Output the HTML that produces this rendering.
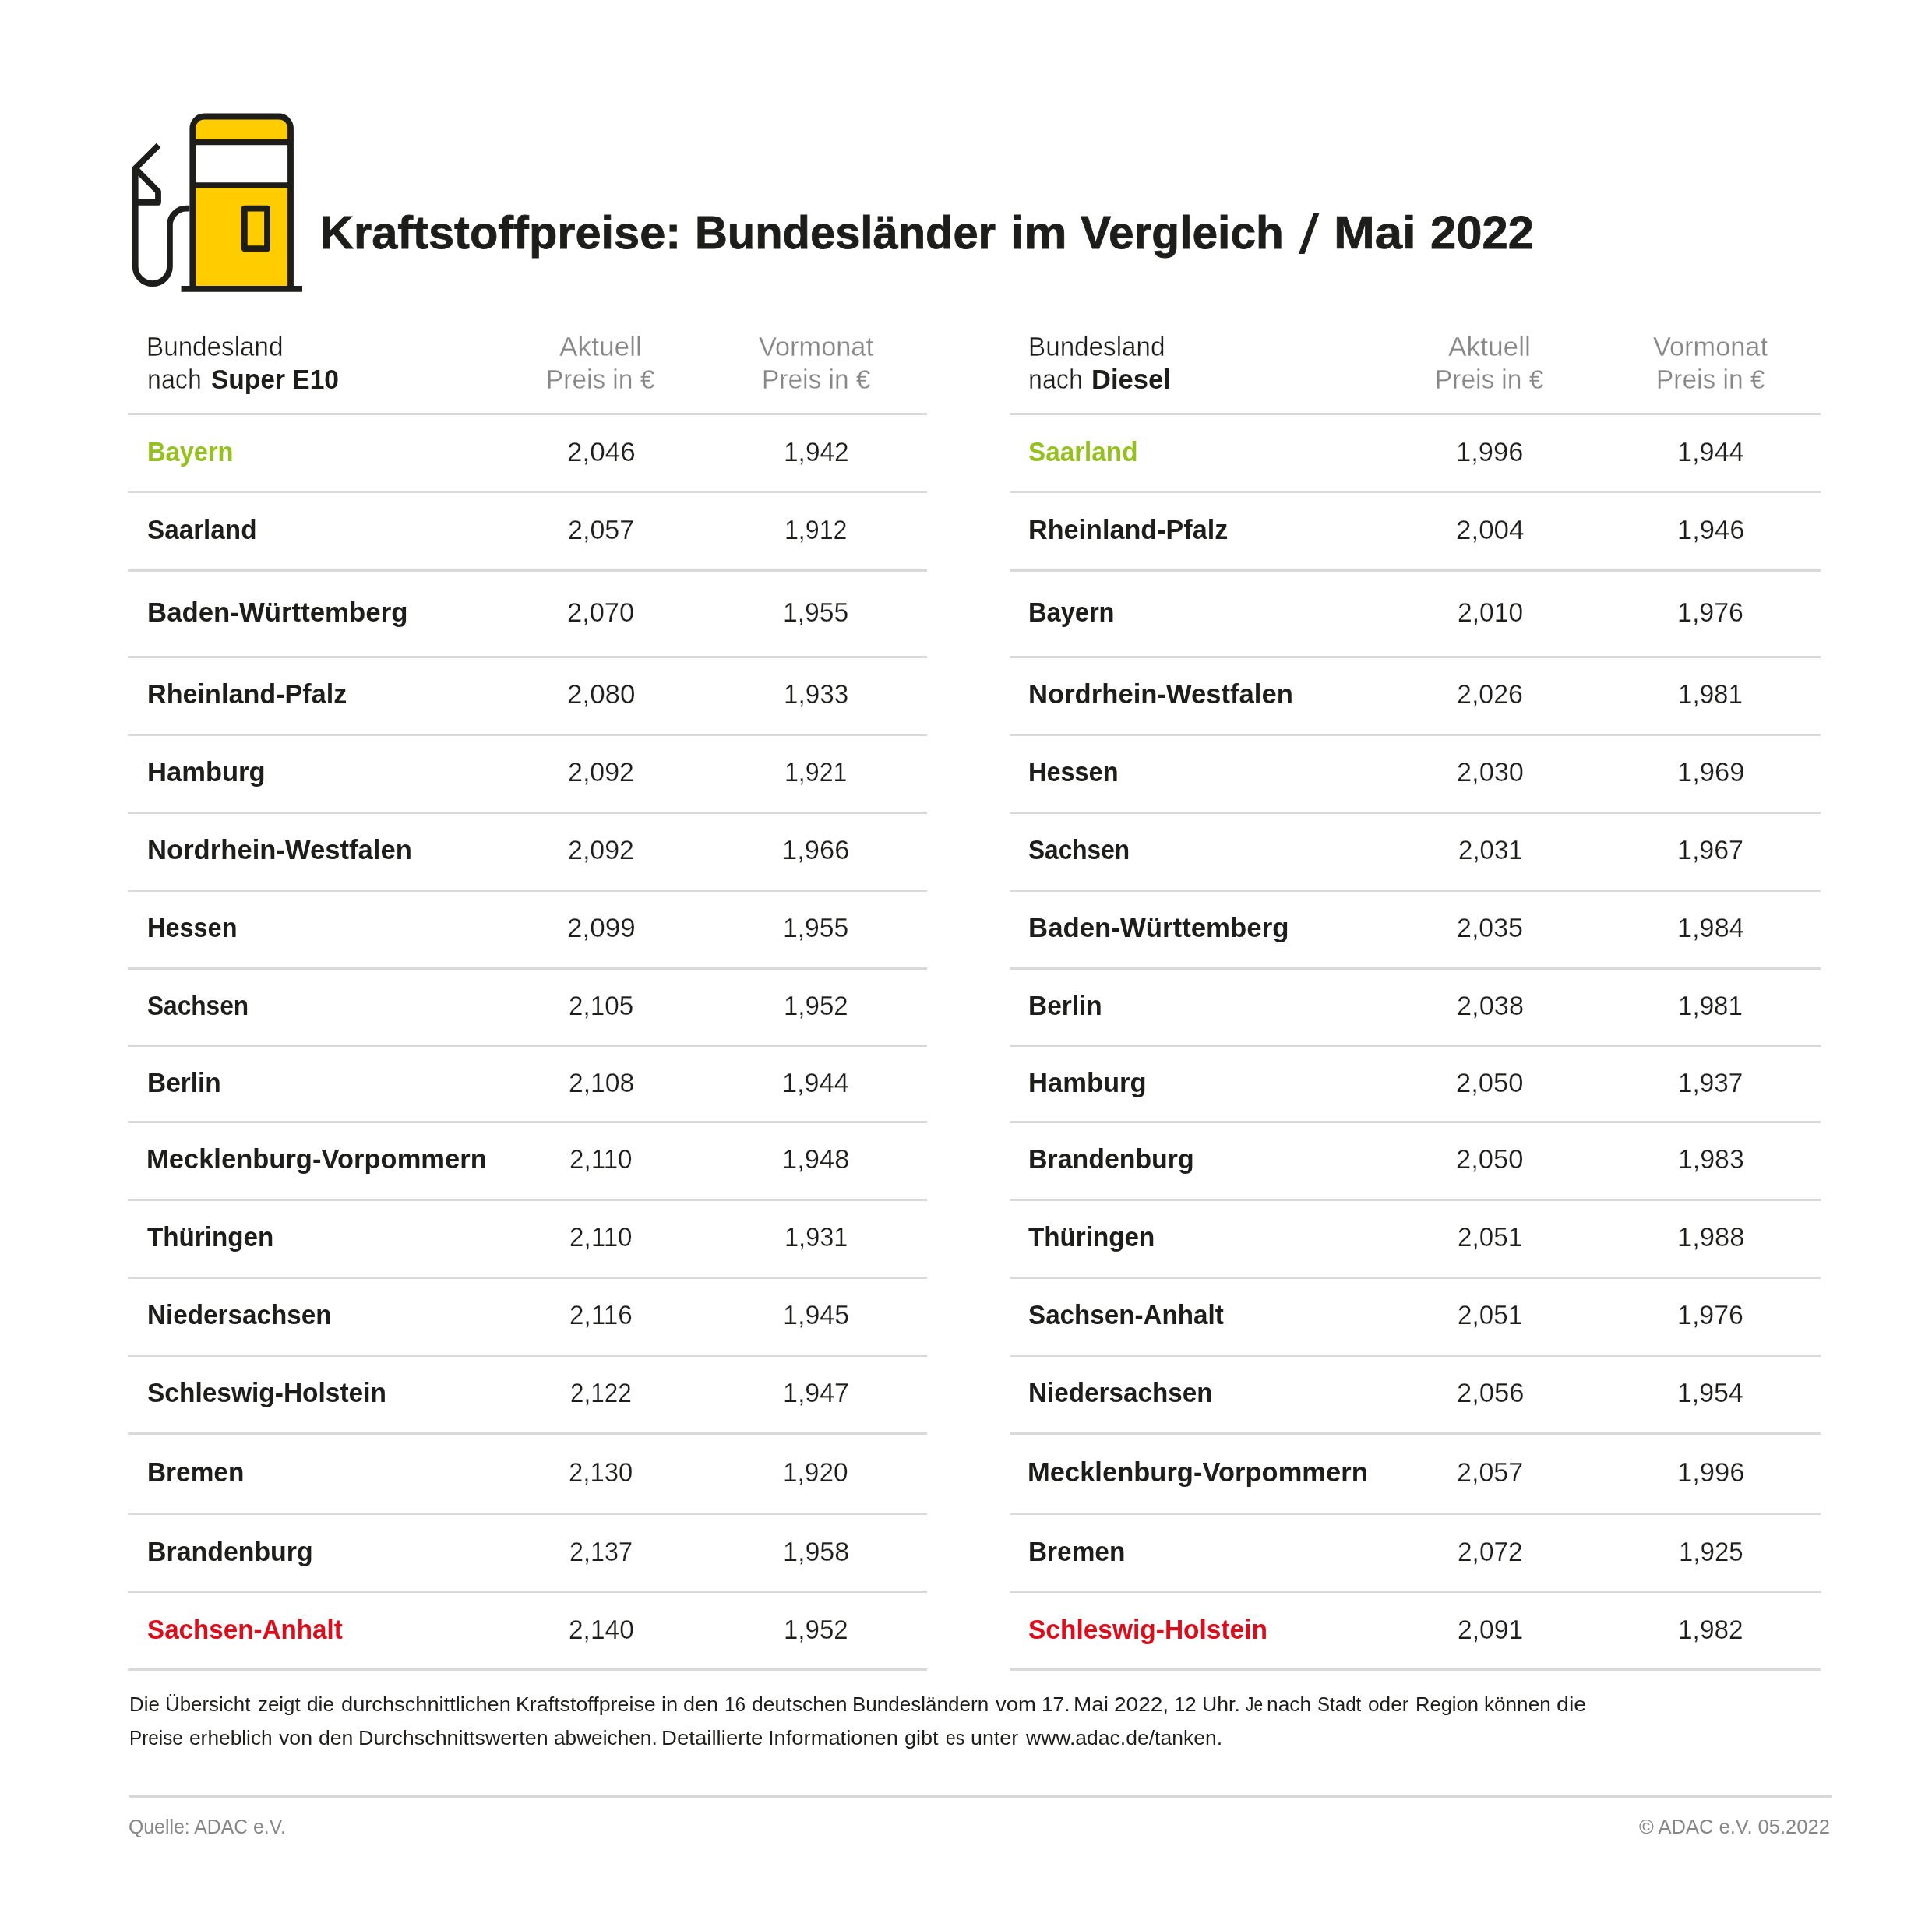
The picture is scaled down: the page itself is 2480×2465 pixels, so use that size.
<!DOCTYPE html>
<html lang="de">
<head>
<meta charset="utf-8">
<title>Kraftstoffpreise: Bundesländer im Vergleich / Mai 2022</title>
<style>
html,body{margin:0;padding:0;background:#fff;}
body{width:2480px;height:2465px;position:relative;overflow:hidden;font-family:"Liberation Sans", sans-serif;}
.t{position:absolute;white-space:nowrap;transform-origin:0 0;margin:0;padding:0;}
.ln{position:absolute;height:3px;background:#d9d9d9;}
.b{font-weight:700;}
svg{position:absolute;overflow:visible;}
</style>
</head>
<body>
<div class="ln" style="left:164.3px;top:530px;width:1025.3px"></div>
<div class="ln" style="left:1296.1px;top:530px;width:1041.3px"></div>
<div class="ln" style="left:164.3px;top:630px;width:1025.3px"></div>
<div class="ln" style="left:1296.1px;top:630px;width:1041.3px"></div>
<div class="ln" style="left:164.3px;top:731px;width:1025.3px"></div>
<div class="ln" style="left:1296.1px;top:731px;width:1041.3px"></div>
<div class="ln" style="left:164.3px;top:842px;width:1025.3px"></div>
<div class="ln" style="left:1296.1px;top:842px;width:1041.3px"></div>
<div class="ln" style="left:164.3px;top:942px;width:1025.3px"></div>
<div class="ln" style="left:1296.1px;top:942px;width:1041.3px"></div>
<div class="ln" style="left:164.3px;top:1042px;width:1025.3px"></div>
<div class="ln" style="left:1296.1px;top:1042px;width:1041.3px"></div>
<div class="ln" style="left:164.3px;top:1142px;width:1025.3px"></div>
<div class="ln" style="left:1296.1px;top:1142px;width:1041.3px"></div>
<div class="ln" style="left:164.3px;top:1242px;width:1025.3px"></div>
<div class="ln" style="left:1296.1px;top:1242px;width:1041.3px"></div>
<div class="ln" style="left:164.3px;top:1341px;width:1025.3px"></div>
<div class="ln" style="left:1296.1px;top:1341px;width:1041.3px"></div>
<div class="ln" style="left:164.3px;top:1439px;width:1025.3px"></div>
<div class="ln" style="left:1296.1px;top:1439px;width:1041.3px"></div>
<div class="ln" style="left:164.3px;top:1539px;width:1025.3px"></div>
<div class="ln" style="left:1296.1px;top:1539px;width:1041.3px"></div>
<div class="ln" style="left:164.3px;top:1639px;width:1025.3px"></div>
<div class="ln" style="left:1296.1px;top:1639px;width:1041.3px"></div>
<div class="ln" style="left:164.3px;top:1739px;width:1025.3px"></div>
<div class="ln" style="left:1296.1px;top:1739px;width:1041.3px"></div>
<div class="ln" style="left:164.3px;top:1839px;width:1025.3px"></div>
<div class="ln" style="left:1296.1px;top:1839px;width:1041.3px"></div>
<div class="ln" style="left:164.3px;top:1942px;width:1025.3px"></div>
<div class="ln" style="left:1296.1px;top:1942px;width:1041.3px"></div>
<div class="ln" style="left:164.3px;top:2042px;width:1025.3px"></div>
<div class="ln" style="left:1296.1px;top:2042px;width:1041.3px"></div>
<div class="ln" style="left:164.3px;top:2142px;width:1025.3px"></div>
<div class="ln" style="left:1296.1px;top:2142px;width:1041.3px"></div>
<div class="ln" style="left:165px;top:2304px;width:2185.5px;height:4px;background:#d8d8d8"></div>
<svg width="2480" height="2465" viewBox="0 0 2480 2465" style="left:0;top:0">
<path d="M247.3 368 V164.5 a15 15 0 0 1 15 -15 h95.7 a15 15 0 0 1 15 15 V368 Z" fill="#ffcc00"/>
<rect x="247.3" y="182.6" width="125.7" height="55.3" fill="#ffffff"/>
<g fill="none" stroke="#1d1d1b" stroke-width="7.8">
<path d="M247.3 368 V164.5 a15 15 0 0 1 15 -15 h95.7 a15 15 0 0 1 15 15 V368"/>
<path d="M247.3 182.6 H373 M247.3 237.9 H373" stroke-width="7.3"/>
<path d="M232.6 370.95 H388"/>
<rect x="313.8" y="267.6" width="29.2" height="51.5" stroke-linejoin="round"/>
<path d="M203.5 186.5 L173.7 216.2 V342 a22.1 22.1 0 0 0 44.2 0 V289.2 a21.5 21.5 0 0 1 21.5 -21.5 h4"/>
<path d="M173.7 216.2 L203 246 V259.8 H173.7" stroke-linejoin="round"/>
</g>
</svg>
<div id="txt" style="position:absolute;left:0;top:0;width:2480px;height:2465px;will-change:transform">
<div class="t b" style="left:411.48px;top:269.50px;font-size:59px;line-height:59px;color:#1d1d1b;transform:scaleX(1.0092);-webkit-text-stroke:0.79px #1d1d1b;">Kraftstoffpreise:</div>
<div class="t b" style="left:891.98px;top:269.50px;font-size:59px;line-height:59px;color:#1d1d1b;transform:scaleX(0.9815);-webkit-text-stroke:0.82px #1d1d1b;">Bundesländer</div>
<div class="t b" style="left:1296.61px;top:269.50px;font-size:59px;line-height:59px;color:#1d1d1b;transform:scaleX(1.0542);-webkit-text-stroke:0.76px #1d1d1b;">im</div>
<div class="t b" style="left:1386.90px;top:269.50px;font-size:59px;line-height:59px;color:#1d1d1b;transform:scaleX(0.9942);-webkit-text-stroke:0.80px #1d1d1b;">Vergleich</div>
<div class="t" style="left:1666.50px;top:265.66px;font-size:70px;line-height:70px;color:#1d1d1b;transform:scaleX(1.3562);">/</div>
<div class="t b" style="left:1711.84px;top:269.50px;font-size:59px;line-height:59px;color:#1d1d1b;transform:scaleX(1.0748);-webkit-text-stroke:0.74px #1d1d1b;">Mai</div>
<div class="t b" style="left:1836.23px;top:269.50px;font-size:59px;line-height:59px;color:#1d1d1b;transform:scaleX(1.0130);-webkit-text-stroke:0.79px #1d1d1b;">2022</div>
<div class="t b" style="left:189.16px;top:562.00px;font-size:35px;line-height:35px;color:#95c11f;transform:scaleX(0.9312);">Bayern</div>
<div class="t" style="left:727.88px;top:562.00px;font-size:35px;line-height:35px;color:#1d1d1b;transform:scaleX(1.0003);-webkit-text-stroke:0.25px #fff;">2,046</div>
<div class="t" style="left:1005.58px;top:562.00px;font-size:35px;line-height:35px;color:#1d1d1b;transform:scaleX(0.9556);-webkit-text-stroke:0.25px #fff;">1,942</div>
<div class="t b" style="left:188.63px;top:662.00px;font-size:35px;line-height:35px;color:#1d1d1b;transform:scaleX(0.9503);">Saarland</div>
<div class="t" style="left:729.08px;top:662.00px;font-size:35px;line-height:35px;color:#1d1d1b;transform:scaleX(0.9731);-webkit-text-stroke:0.25px #fff;">2,057</div>
<div class="t" style="left:1007.27px;top:662.00px;font-size:35px;line-height:35px;color:#1d1d1b;transform:scaleX(0.9175);-webkit-text-stroke:0.25px #fff;">1,912</div>
<div class="t b" style="left:189.03px;top:768.00px;font-size:35px;line-height:35px;color:#1d1d1b;transform:scaleX(0.9942);">Baden-Württemberg</div>
<div class="t" style="left:728.36px;top:768.00px;font-size:35px;line-height:35px;color:#1d1d1b;transform:scaleX(0.9833);-webkit-text-stroke:0.25px #fff;">2,070</div>
<div class="t" style="left:1005.32px;top:768.00px;font-size:35px;line-height:35px;color:#1d1d1b;transform:scaleX(0.9615);-webkit-text-stroke:0.25px #fff;">1,955</div>
<div class="t b" style="left:189.06px;top:873.00px;font-size:35px;line-height:35px;color:#1d1d1b;transform:scaleX(0.9763);">Rheinland-Pfalz</div>
<div class="t" style="left:727.69px;top:873.00px;font-size:35px;line-height:35px;color:#1d1d1b;transform:scaleX(0.9986);-webkit-text-stroke:0.25px #fff;">2,080</div>
<div class="t" style="left:1005.85px;top:873.00px;font-size:35px;line-height:35px;color:#1d1d1b;transform:scaleX(0.9496);-webkit-text-stroke:0.25px #fff;">1,933</div>
<div class="t b" style="left:189.04px;top:973.00px;font-size:35px;line-height:35px;color:#1d1d1b;transform:scaleX(0.9873);">Hamburg</div>
<div class="t" style="left:729.18px;top:973.00px;font-size:35px;line-height:35px;color:#1d1d1b;transform:scaleX(0.9707);-webkit-text-stroke:0.25px #fff;">2,092</div>
<div class="t" style="left:1007.27px;top:973.00px;font-size:35px;line-height:35px;color:#1d1d1b;transform:scaleX(0.9175);-webkit-text-stroke:0.25px #fff;">1,921</div>
<div class="t b" style="left:189.04px;top:1073.00px;font-size:35px;line-height:35px;color:#1d1d1b;transform:scaleX(0.9892);">Nordrhein-Westfalen</div>
<div class="t" style="left:729.18px;top:1073.00px;font-size:35px;line-height:35px;color:#1d1d1b;transform:scaleX(0.9707);-webkit-text-stroke:0.25px #fff;">2,092</div>
<div class="t" style="left:1004.27px;top:1073.00px;font-size:35px;line-height:35px;color:#1d1d1b;transform:scaleX(0.9854);-webkit-text-stroke:0.25px #fff;">1,966</div>
<div class="t b" style="left:189.17px;top:1173.00px;font-size:35px;line-height:35px;color:#1d1d1b;transform:scaleX(0.9276);">Hessen</div>
<div class="t" style="left:727.88px;top:1173.00px;font-size:35px;line-height:35px;color:#1d1d1b;transform:scaleX(1.0003);-webkit-text-stroke:0.25px #fff;">2,099</div>
<div class="t" style="left:1005.32px;top:1173.00px;font-size:35px;line-height:35px;color:#1d1d1b;transform:scaleX(0.9615);-webkit-text-stroke:0.25px #fff;">1,955</div>
<div class="t b" style="left:188.66px;top:1273.00px;font-size:35px;line-height:35px;color:#1d1d1b;transform:scaleX(0.9039);">Sachsen</div>
<div class="t" style="left:730.07px;top:1273.00px;font-size:35px;line-height:35px;color:#1d1d1b;transform:scaleX(0.9506);-webkit-text-stroke:0.25px #fff;">2,105</div>
<div class="t" style="left:1006.11px;top:1273.00px;font-size:35px;line-height:35px;color:#1d1d1b;transform:scaleX(0.9437);-webkit-text-stroke:0.25px #fff;">1,952</div>
<div class="t b" style="left:189.11px;top:1372.00px;font-size:35px;line-height:35px;color:#1d1d1b;transform:scaleX(0.9553);">Berlin</div>
<div class="t" style="left:729.55px;top:1372.00px;font-size:35px;line-height:35px;color:#1d1d1b;transform:scaleX(0.9624);-webkit-text-stroke:0.25px #fff;">2,108</div>
<div class="t" style="left:1004.28px;top:1372.00px;font-size:35px;line-height:35px;color:#1d1d1b;transform:scaleX(0.9790);-webkit-text-stroke:0.25px #fff;">1,944</div>
<div class="t b" style="left:187.99px;top:1470.00px;font-size:35px;line-height:35px;color:#1d1d1b;transform:scaleX(0.9865);">Mecklenburg-Vorpommern</div>
<div class="t" style="left:731.17px;top:1470.00px;font-size:35px;line-height:35px;color:#1d1d1b;transform:scaleX(0.9476);-webkit-text-stroke:0.25px #fff;">2,110</div>
<div class="t" style="left:1004.27px;top:1470.00px;font-size:35px;line-height:35px;color:#1d1d1b;transform:scaleX(0.9854);-webkit-text-stroke:0.25px #fff;">1,948</div>
<div class="t b" style="left:189.15px;top:1570.00px;font-size:35px;line-height:35px;color:#1d1d1b;transform:scaleX(0.9490);">Thüringen</div>
<div class="t" style="left:731.17px;top:1570.00px;font-size:35px;line-height:35px;color:#1d1d1b;transform:scaleX(0.9476);-webkit-text-stroke:0.25px #fff;">2,110</div>
<div class="t" style="left:1006.74px;top:1570.00px;font-size:35px;line-height:35px;color:#1d1d1b;transform:scaleX(0.9294);-webkit-text-stroke:0.25px #fff;">1,931</div>
<div class="t b" style="left:189.12px;top:1670.00px;font-size:35px;line-height:35px;color:#1d1d1b;transform:scaleX(0.9497);">Niedersachsen</div>
<div class="t" style="left:731.37px;top:1670.00px;font-size:35px;line-height:35px;color:#1d1d1b;transform:scaleX(0.9490);-webkit-text-stroke:0.25px #fff;">2,116</div>
<div class="t" style="left:1004.80px;top:1670.00px;font-size:35px;line-height:35px;color:#1d1d1b;transform:scaleX(0.9735);-webkit-text-stroke:0.25px #fff;">1,945</div>
<div class="t b" style="left:188.63px;top:1770.00px;font-size:35px;line-height:35px;color:#1d1d1b;transform:scaleX(0.9567);">Schleswig-Holstein</div>
<div class="t" style="left:732.35px;top:1770.00px;font-size:35px;line-height:35px;color:#1d1d1b;transform:scaleX(0.8985);-webkit-text-stroke:0.25px #fff;">2,122</div>
<div class="t" style="left:1004.95px;top:1770.00px;font-size:35px;line-height:35px;color:#1d1d1b;transform:scaleX(0.9699);-webkit-text-stroke:0.25px #fff;">1,947</div>
<div class="t b" style="left:189.11px;top:1872.00px;font-size:35px;line-height:35px;color:#1d1d1b;transform:scaleX(0.9538);">Bremen</div>
<div class="t" style="left:730.34px;top:1872.00px;font-size:35px;line-height:35px;color:#1d1d1b;transform:scaleX(0.9386);-webkit-text-stroke:0.25px #fff;">2,130</div>
<div class="t" style="left:1005.39px;top:1872.00px;font-size:35px;line-height:35px;color:#1d1d1b;transform:scaleX(0.9541);-webkit-text-stroke:0.25px #fff;">1,920</div>
<div class="t b" style="left:189.08px;top:1974.00px;font-size:35px;line-height:35px;color:#1d1d1b;transform:scaleX(0.9680);">Brandenburg</div>
<div class="t" style="left:731.21px;top:1974.00px;font-size:35px;line-height:35px;color:#1d1d1b;transform:scaleX(0.9246);-webkit-text-stroke:0.25px #fff;">2,137</div>
<div class="t" style="left:1004.80px;top:1974.00px;font-size:35px;line-height:35px;color:#1d1d1b;transform:scaleX(0.9735);-webkit-text-stroke:0.25px #fff;">1,958</div>
<div class="t b" style="left:188.63px;top:2074.00px;font-size:35px;line-height:35px;color:#dc0c1a;transform:scaleX(0.9483);">Sachsen-Anhalt</div>
<div class="t" style="left:729.56px;top:2074.00px;font-size:35px;line-height:35px;color:#1d1d1b;transform:scaleX(0.9562);-webkit-text-stroke:0.25px #fff;">2,140</div>
<div class="t" style="left:1006.11px;top:2074.00px;font-size:35px;line-height:35px;color:#1d1d1b;transform:scaleX(0.9437);-webkit-text-stroke:0.25px #fff;">1,952</div>
<div class="t" style="left:188.30px;top:427.00px;font-size:35px;line-height:35px;color:#1d1d1b;transform:scaleX(0.9491);-webkit-text-stroke:0.40px #fff;">Bundesland</div>
<div class="t" style="left:188.88px;top:469.00px;font-size:35px;line-height:35px;color:#1d1d1b;transform:scaleX(0.9213);-webkit-text-stroke:0.40px #fff;">nach</div>
<div class="t" style="left:718.25px;top:427.00px;font-size:35px;line-height:35px;color:#878787;transform:scaleX(1.0083);-webkit-text-stroke:0.30px #fff;">Aktuell</div>
<div class="t" style="left:701.14px;top:469.00px;font-size:35px;line-height:35px;color:#878787;transform:scaleX(0.9542);-webkit-text-stroke:0.30px #fff;">Preis in €</div>
<div class="t" style="left:973.55px;top:427.00px;font-size:35px;line-height:35px;color:#878787;transform:scaleX(0.9811);-webkit-text-stroke:0.30px #fff;">Vormonat</div>
<div class="t" style="left:977.94px;top:469.00px;font-size:35px;line-height:35px;color:#878787;transform:scaleX(0.9556);-webkit-text-stroke:0.30px #fff;">Preis in €</div>
<div class="t b" style="left:1319.83px;top:562.00px;font-size:35px;line-height:35px;color:#95c11f;transform:scaleX(0.9503);">Saarland</div>
<div class="t" style="left:1869.47px;top:562.00px;font-size:35px;line-height:35px;color:#1d1d1b;transform:scaleX(0.9854);-webkit-text-stroke:0.25px #fff;">1,996</div>
<div class="t" style="left:2152.78px;top:562.00px;font-size:35px;line-height:35px;color:#1d1d1b;transform:scaleX(0.9790);-webkit-text-stroke:0.25px #fff;">1,944</div>
<div class="t b" style="left:1320.26px;top:662.00px;font-size:35px;line-height:35px;color:#1d1d1b;transform:scaleX(0.9763);">Rheinland-Pfalz</div>
<div class="t" style="left:1868.89px;top:662.00px;font-size:35px;line-height:35px;color:#1d1d1b;transform:scaleX(0.9986);-webkit-text-stroke:0.25px #fff;">2,004</div>
<div class="t" style="left:2152.77px;top:662.00px;font-size:35px;line-height:35px;color:#1d1d1b;transform:scaleX(0.9854);-webkit-text-stroke:0.25px #fff;">1,946</div>
<div class="t b" style="left:1320.36px;top:768.00px;font-size:35px;line-height:35px;color:#1d1d1b;transform:scaleX(0.9312);">Bayern</div>
<div class="t" style="left:1870.55px;top:768.00px;font-size:35px;line-height:35px;color:#1d1d1b;transform:scaleX(0.9609);-webkit-text-stroke:0.25px #fff;">2,010</div>
<div class="t" style="left:2153.45px;top:768.00px;font-size:35px;line-height:35px;color:#1d1d1b;transform:scaleX(0.9699);-webkit-text-stroke:0.25px #fff;">1,976</div>
<div class="t b" style="left:1320.24px;top:873.00px;font-size:35px;line-height:35px;color:#1d1d1b;transform:scaleX(0.9892);">Nordrhein-Westfalen</div>
<div class="t" style="left:1870.38px;top:873.00px;font-size:35px;line-height:35px;color:#1d1d1b;transform:scaleX(0.9707);-webkit-text-stroke:0.25px #fff;">2,026</div>
<div class="t" style="left:2154.45px;top:873.00px;font-size:35px;line-height:35px;color:#1d1d1b;transform:scaleX(0.9473);-webkit-text-stroke:0.25px #fff;">1,981</div>
<div class="t b" style="left:1320.37px;top:973.00px;font-size:35px;line-height:35px;color:#1d1d1b;transform:scaleX(0.9276);">Hessen</div>
<div class="t" style="left:1869.67px;top:973.00px;font-size:35px;line-height:35px;color:#1d1d1b;transform:scaleX(0.9809);-webkit-text-stroke:0.25px #fff;">2,030</div>
<div class="t" style="left:2152.77px;top:973.00px;font-size:35px;line-height:35px;color:#1d1d1b;transform:scaleX(0.9854);-webkit-text-stroke:0.25px #fff;">1,969</div>
<div class="t b" style="left:1319.86px;top:1073.00px;font-size:35px;line-height:35px;color:#1d1d1b;transform:scaleX(0.9039);">Sachsen</div>
<div class="t" style="left:1871.53px;top:1073.00px;font-size:35px;line-height:35px;color:#1d1d1b;transform:scaleX(0.9447);-webkit-text-stroke:0.25px #fff;">2,031</div>
<div class="t" style="left:2153.45px;top:1073.00px;font-size:35px;line-height:35px;color:#1d1d1b;transform:scaleX(0.9699);-webkit-text-stroke:0.25px #fff;">1,967</div>
<div class="t b" style="left:1320.23px;top:1173.00px;font-size:35px;line-height:35px;color:#1d1d1b;transform:scaleX(0.9942);">Baden-Württemberg</div>
<div class="t" style="left:1870.38px;top:1173.00px;font-size:35px;line-height:35px;color:#1d1d1b;transform:scaleX(0.9707);-webkit-text-stroke:0.25px #fff;">2,035</div>
<div class="t" style="left:2152.78px;top:1173.00px;font-size:35px;line-height:35px;color:#1d1d1b;transform:scaleX(0.9790);-webkit-text-stroke:0.25px #fff;">1,984</div>
<div class="t b" style="left:1320.31px;top:1273.00px;font-size:35px;line-height:35px;color:#1d1d1b;transform:scaleX(0.9553);">Berlin</div>
<div class="t" style="left:1869.86px;top:1273.00px;font-size:35px;line-height:35px;color:#1d1d1b;transform:scaleX(0.9825);-webkit-text-stroke:0.25px #fff;">2,038</div>
<div class="t" style="left:2154.45px;top:1273.00px;font-size:35px;line-height:35px;color:#1d1d1b;transform:scaleX(0.9473);-webkit-text-stroke:0.25px #fff;">1,981</div>
<div class="t b" style="left:1320.24px;top:1372.00px;font-size:35px;line-height:35px;color:#1d1d1b;transform:scaleX(0.9873);">Hamburg</div>
<div class="t" style="left:1869.41px;top:1372.00px;font-size:35px;line-height:35px;color:#1d1d1b;transform:scaleX(0.9868);-webkit-text-stroke:0.25px #fff;">2,050</div>
<div class="t" style="left:2154.24px;top:1372.00px;font-size:35px;line-height:35px;color:#1d1d1b;transform:scaleX(0.9520);-webkit-text-stroke:0.25px #fff;">1,937</div>
<div class="t b" style="left:1320.28px;top:1470.00px;font-size:35px;line-height:35px;color:#1d1d1b;transform:scaleX(0.9680);">Brandenburg</div>
<div class="t" style="left:1869.41px;top:1470.00px;font-size:35px;line-height:35px;color:#1d1d1b;transform:scaleX(0.9868);-webkit-text-stroke:0.25px #fff;">2,050</div>
<div class="t" style="left:2153.56px;top:1470.00px;font-size:35px;line-height:35px;color:#1d1d1b;transform:scaleX(0.9675);-webkit-text-stroke:0.25px #fff;">1,983</div>
<div class="t b" style="left:1320.35px;top:1570.00px;font-size:35px;line-height:35px;color:#1d1d1b;transform:scaleX(0.9490);">Thüringen</div>
<div class="t" style="left:1871.27px;top:1570.00px;font-size:35px;line-height:35px;color:#1d1d1b;transform:scaleX(0.9506);-webkit-text-stroke:0.25px #fff;">2,051</div>
<div class="t" style="left:2152.77px;top:1570.00px;font-size:35px;line-height:35px;color:#1d1d1b;transform:scaleX(0.9854);-webkit-text-stroke:0.25px #fff;">1,988</div>
<div class="t b" style="left:1319.83px;top:1670.00px;font-size:35px;line-height:35px;color:#1d1d1b;transform:scaleX(0.9483);">Sachsen-Anhalt</div>
<div class="t" style="left:1871.27px;top:1670.00px;font-size:35px;line-height:35px;color:#1d1d1b;transform:scaleX(0.9506);-webkit-text-stroke:0.25px #fff;">2,051</div>
<div class="t" style="left:2153.45px;top:1670.00px;font-size:35px;line-height:35px;color:#1d1d1b;transform:scaleX(0.9699);-webkit-text-stroke:0.25px #fff;">1,976</div>
<div class="t b" style="left:1320.32px;top:1770.00px;font-size:35px;line-height:35px;color:#1d1d1b;transform:scaleX(0.9497);">Niedersachsen</div>
<div class="t" style="left:1869.60px;top:1770.00px;font-size:35px;line-height:35px;color:#1d1d1b;transform:scaleX(0.9884);-webkit-text-stroke:0.25px #fff;">2,056</div>
<div class="t" style="left:2153.31px;top:1770.00px;font-size:35px;line-height:35px;color:#1d1d1b;transform:scaleX(0.9672);-webkit-text-stroke:0.25px #fff;">1,954</div>
<div class="t b" style="left:1319.19px;top:1872.00px;font-size:35px;line-height:35px;color:#1d1d1b;transform:scaleX(0.9865);">Mecklenburg-Vorpommern</div>
<div class="t" style="left:1870.28px;top:1872.00px;font-size:35px;line-height:35px;color:#1d1d1b;transform:scaleX(0.9731);-webkit-text-stroke:0.25px #fff;">2,057</div>
<div class="t" style="left:2152.77px;top:1872.00px;font-size:35px;line-height:35px;color:#1d1d1b;transform:scaleX(0.9854);-webkit-text-stroke:0.25px #fff;">1,996</div>
<div class="t b" style="left:1320.31px;top:1974.00px;font-size:35px;line-height:35px;color:#1d1d1b;transform:scaleX(0.9538);">Bremen</div>
<div class="t" style="left:1871.06px;top:1974.00px;font-size:35px;line-height:35px;color:#1d1d1b;transform:scaleX(0.9553);-webkit-text-stroke:0.25px #fff;">2,072</div>
<div class="t" style="left:2154.61px;top:1974.00px;font-size:35px;line-height:35px;color:#1d1d1b;transform:scaleX(0.9437);-webkit-text-stroke:0.25px #fff;">1,925</div>
<div class="t b" style="left:1319.83px;top:2074.00px;font-size:35px;line-height:35px;color:#dc0c1a;transform:scaleX(0.9567);">Schleswig-Holstein</div>
<div class="t" style="left:1870.75px;top:2074.00px;font-size:35px;line-height:35px;color:#1d1d1b;transform:scaleX(0.9624);-webkit-text-stroke:0.25px #fff;">2,091</div>
<div class="t" style="left:2154.08px;top:2074.00px;font-size:35px;line-height:35px;color:#1d1d1b;transform:scaleX(0.9556);-webkit-text-stroke:0.25px #fff;">1,982</div>
<div class="t" style="left:1319.50px;top:427.00px;font-size:35px;line-height:35px;color:#1d1d1b;transform:scaleX(0.9491);-webkit-text-stroke:0.40px #fff;">Bundesland</div>
<div class="t" style="left:1320.08px;top:469.00px;font-size:35px;line-height:35px;color:#1d1d1b;transform:scaleX(0.9213);-webkit-text-stroke:0.40px #fff;">nach</div>
<div class="t" style="left:1859.45px;top:427.00px;font-size:35px;line-height:35px;color:#878787;transform:scaleX(1.0083);-webkit-text-stroke:0.30px #fff;">Aktuell</div>
<div class="t" style="left:1842.34px;top:469.00px;font-size:35px;line-height:35px;color:#878787;transform:scaleX(0.9542);-webkit-text-stroke:0.30px #fff;">Preis in €</div>
<div class="t" style="left:2121.75px;top:427.00px;font-size:35px;line-height:35px;color:#878787;transform:scaleX(0.9811);-webkit-text-stroke:0.30px #fff;">Vormonat</div>
<div class="t" style="left:2126.14px;top:469.00px;font-size:35px;line-height:35px;color:#878787;transform:scaleX(0.9556);-webkit-text-stroke:0.30px #fff;">Preis in €</div>
<div class="t b" style="left:270.78px;top:469.00px;font-size:35px;line-height:35px;color:#1d1d1b;transform:scaleX(0.9579);">Super E10</div>
<div class="t b" style="left:1401.14px;top:469.00px;font-size:35px;line-height:35px;color:#1d1d1b;transform:scaleX(0.9862);">Diesel</div>
<div class="t" style="left:165.88px;top:2175.00px;font-size:26px;line-height:26px;color:#1d1d1b;transform:scaleX(0.9937);">Die</div>
<div class="t" style="left:211.98px;top:2175.00px;font-size:26px;line-height:26px;color:#1d1d1b;transform:scaleX(0.9956);">Übersicht</div>
<div class="t" style="left:330.59px;top:2175.00px;font-size:26px;line-height:26px;color:#1d1d1b;transform:scaleX(0.9945);">zeigt</div>
<div class="t" style="left:394.48px;top:2175.00px;font-size:26px;line-height:26px;color:#1d1d1b;transform:scaleX(1.0082);">die</div>
<div class="t" style="left:437.55px;top:2175.00px;font-size:26px;line-height:26px;color:#1d1d1b;transform:scaleX(1.0464);">durchschnittlichen</div>
<div class="t" style="left:661.71px;top:2175.00px;font-size:26px;line-height:26px;color:#1d1d1b;transform:scaleX(1.0304);">Kraftstoffpreise</div>
<div class="t" style="left:848.59px;top:2175.00px;font-size:26px;line-height:26px;color:#1d1d1b;transform:scaleX(1.0495);">in</div>
<div class="t" style="left:877.45px;top:2175.00px;font-size:26px;line-height:26px;color:#1d1d1b;transform:scaleX(1.0412);">den</div>
<div class="t" style="left:929.57px;top:2175.00px;font-size:26px;line-height:26px;color:#1d1d1b;transform:scaleX(0.9413);">16</div>
<div class="t" style="left:964.97px;top:2175.00px;font-size:26px;line-height:26px;color:#1d1d1b;transform:scaleX(1.0211);">deutschen</div>
<div class="t" style="left:1093.97px;top:2175.00px;font-size:26px;line-height:26px;color:#1d1d1b;transform:scaleX(1.0016);">Bundesländern</div>
<div class="t" style="left:1277.70px;top:2175.00px;font-size:26px;line-height:26px;color:#1d1d1b;transform:scaleX(1.0571);">vom</div>
<div class="t" style="left:1336.56px;top:2175.00px;font-size:26px;line-height:26px;color:#1d1d1b;transform:scaleX(1.0072);">17.</div>
<div class="t" style="left:1378.42px;top:2175.00px;font-size:26px;line-height:26px;color:#1d1d1b;transform:scaleX(1.0747);">Mai</div>
<div class="t" style="left:1430.29px;top:2175.00px;font-size:26px;line-height:26px;color:#1d1d1b;transform:scaleX(1.0775);">2022,</div>
<div class="t" style="left:1506.69px;top:2175.00px;font-size:26px;line-height:26px;color:#1d1d1b;transform:scaleX(0.9908);">12</div>
<div class="t" style="left:1542.63px;top:2175.00px;font-size:26px;line-height:26px;color:#1d1d1b;transform:scaleX(1.0249);">Uhr.</div>
<div class="t" style="left:1598.78px;top:2175.00px;font-size:26px;line-height:26px;color:#1d1d1b;transform:scaleX(0.8000);">Je</div>
<div class="t" style="left:1626.05px;top:2175.00px;font-size:26px;line-height:26px;color:#1d1d1b;transform:scaleX(1.0132);">nach</div>
<div class="t" style="left:1690.95px;top:2175.00px;font-size:26px;line-height:26px;color:#1d1d1b;transform:scaleX(0.9269);">Stadt</div>
<div class="t" style="left:1756.48px;top:2175.00px;font-size:26px;line-height:26px;color:#1d1d1b;transform:scaleX(1.0079);">oder</div>
<div class="t" style="left:1816.80px;top:2175.00px;font-size:26px;line-height:26px;color:#1d1d1b;transform:scaleX(0.9822);">Region</div>
<div class="t" style="left:1904.67px;top:2175.00px;font-size:26px;line-height:26px;color:#1d1d1b;transform:scaleX(1.0047);">können</div>
<div class="t" style="left:1998.00px;top:2175.00px;font-size:26px;line-height:26px;color:#1d1d1b;transform:scaleX(1.1026);">die</div>
<div class="t" style="left:166.00px;top:2218.00px;font-size:26px;line-height:26px;color:#1d1d1b;transform:scaleX(0.9347);">Preise</div>
<div class="t" style="left:243.08px;top:2218.00px;font-size:26px;line-height:26px;color:#1d1d1b;transform:scaleX(1.0113);">erheblich</div>
<div class="t" style="left:358.30px;top:2218.00px;font-size:26px;line-height:26px;color:#1d1d1b;transform:scaleX(1.0257);">von</div>
<div class="t" style="left:408.97px;top:2218.00px;font-size:26px;line-height:26px;color:#1d1d1b;transform:scaleX(1.0241);">den</div>
<div class="t" style="left:459.80px;top:2218.00px;font-size:26px;line-height:26px;color:#1d1d1b;transform:scaleX(1.0343);">Durchschnittswerten</div>
<div class="t" style="left:711.08px;top:2218.00px;font-size:26px;line-height:26px;color:#1d1d1b;transform:scaleX(1.0088);">abweichen.</div>
<div class="t" style="left:849.24px;top:2218.00px;font-size:26px;line-height:26px;color:#1d1d1b;transform:scaleX(1.0623);">Detaillierte</div>
<div class="t" style="left:986.47px;top:2218.00px;font-size:26px;line-height:26px;color:#1d1d1b;transform:scaleX(1.0502);">Informationen</div>
<div class="t" style="left:1161.06px;top:2218.00px;font-size:26px;line-height:26px;color:#1d1d1b;transform:scaleX(1.0389);">gibt</div>
<div class="t" style="left:1213.99px;top:2218.00px;font-size:26px;line-height:26px;color:#1d1d1b;transform:scaleX(0.8787);">es</div>
<div class="t" style="left:1245.72px;top:2218.00px;font-size:26px;line-height:26px;color:#1d1d1b;transform:scaleX(1.0311);">unter</div>
<div class="t" style="left:1317.11px;top:2218.00px;font-size:26px;line-height:26px;color:#1d1d1b;transform:scaleX(1.0199);">www.adac.de/tanken.</div>
<div class="t" style="left:164.54px;top:2332.00px;font-size:26px;line-height:26px;color:#878787;transform:scaleX(0.9548);">Quelle: ADAC e.V.</div>
<div class="t" style="left:2103.60px;top:2332.00px;font-size:26px;line-height:26px;color:#878787;transform:scaleX(0.9814);">© ADAC e.V. 05.2022</div>
</div>
</body>
</html>
